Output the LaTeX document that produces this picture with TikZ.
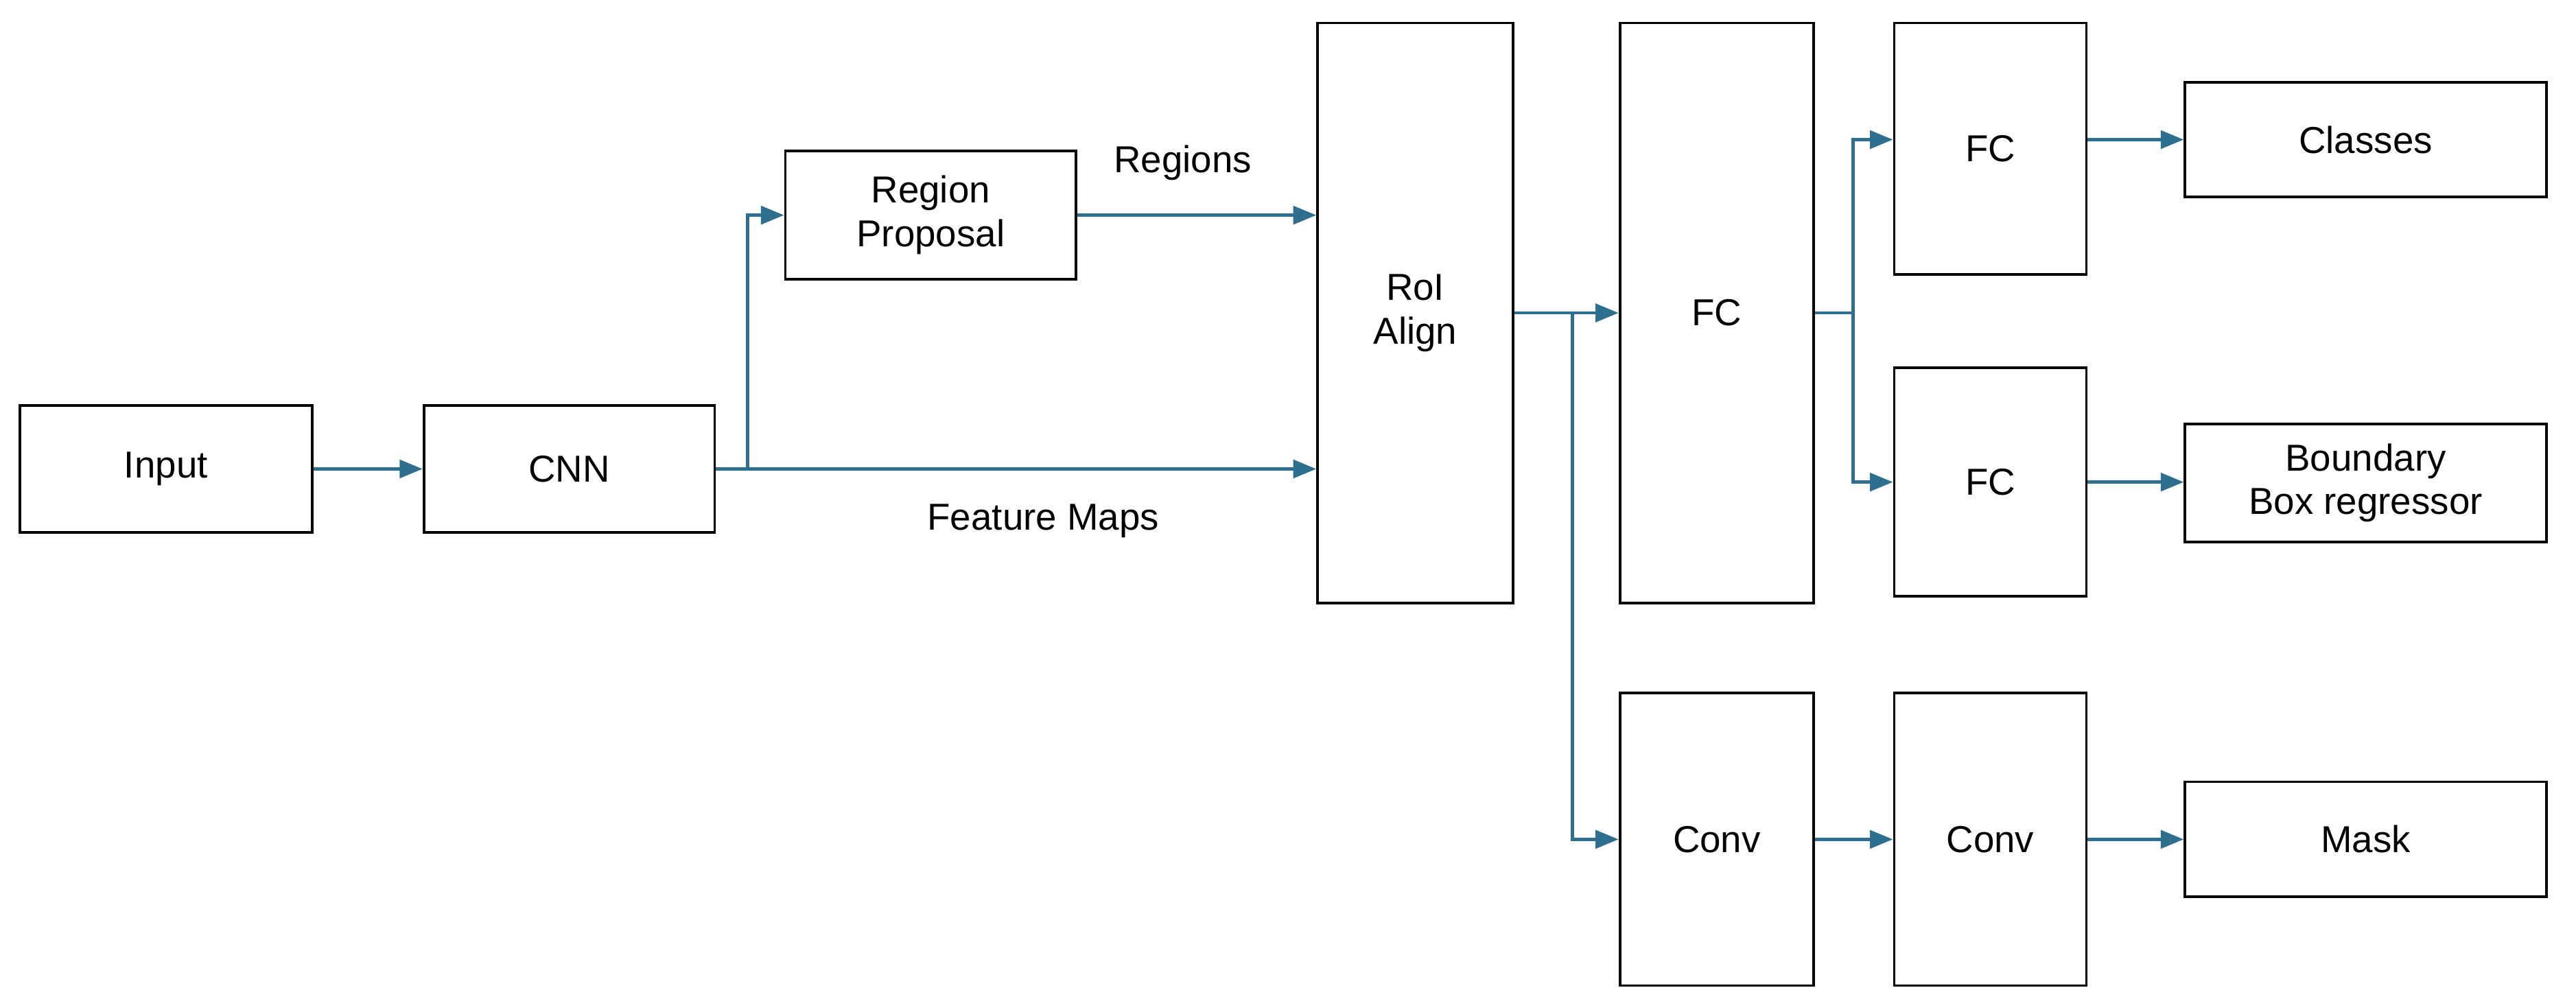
\documentclass[tikz,border=0pt]{standalone}
\usepackage{fontspec}
\setmainfont{Liberation Sans}
\usetikzlibrary{arrows.meta}
\definecolor{ln}{HTML}{2E6E8E}
\begin{document}
\begin{tikzpicture}[x=0.1mm,y=-0.1mm,
  box/.style={draw=black,line width=0.45pt,inner sep=0pt,align=center,font=\fontsize{6.5}{7.6}\selectfont},
  con/.style={draw=ln,line width=0.55pt,-{Triangle[length=1.4mm,width=1.1mm]}},
  lin/.style={draw=ln,line width=0.55pt},
  lab/.style={font=\fontsize{6.5}{7.6}\selectfont}]
\useasboundingbox (0,0) rectangle (1568,609);
\newcommand{\bx}[6]{\node[box,minimum width=#4*0.1mm,minimum height=#5*0.1mm] (#1) at (#2,#3) {#6};}
\bx{inp}{101}{285.5}{178}{77}{Input}
\bx{cnn}{346.5}{285.5}{177}{77}{CNN}
\bx{rp}{566.5}{131}{177}{78}{Region\\Proposal}
\bx{roi}{861.5}{190.5}{119}{353}{RoI\\Align}
\bx{fc}{1045}{190.5}{118}{353}{FC}
\bx{fct}{1211.5}{90.5}{117}{153}{FC}
\bx{fcm}{1211.5}{293.5}{117}{139}{FC}
\bx{cls}{1440}{85}{220}{70}{Classes}
\bx{bb}{1440}{294}{220}{72}{Boundary\\Box regressor}
\bx{cv1}{1045}{511}{118}{178}{Conv}
\bx{cv2}{1211.5}{511}{117}{178}{Conv}
\bx{mask}{1440}{511}{220}{70}{Mask}
\coordinate (s1) at (455,285.5);
\coordinate (s2) at (957,190.5);
\coordinate (s3) at (1128,190.5);
\draw[con] (inp.east) -- (cnn.east -| cnn.west);
\draw[con] (cnn.east) -- (roi.west |- cnn.east);
\draw[con] (s1) |- (rp.west);
\draw[con] (rp.east) -- (roi.west |- rp.east);
\draw[con] (roi.east) -- (fc.west);
\draw[con] (s2) |- (cv1.west);
\draw[lin] (fc.east) -- (s3);
\draw[con] (s3) |- (fct.west |- cls.west);
\draw[con] (s3) |- (fcm.west);
\draw[con] (fct.east |- cls.west) -- (cls.west);
\draw[con] (fcm.east) -- (bb.west |- fcm.east);
\draw[con] (cv1.east) -- (cv2.west);
\draw[con] (cv2.east) -- (mask.west);
\node[lab] (regl) at (720,99) {Regions};
\node[lab] (fml) at (635,317) {Feature Maps};
\end{tikzpicture}
\end{document}
